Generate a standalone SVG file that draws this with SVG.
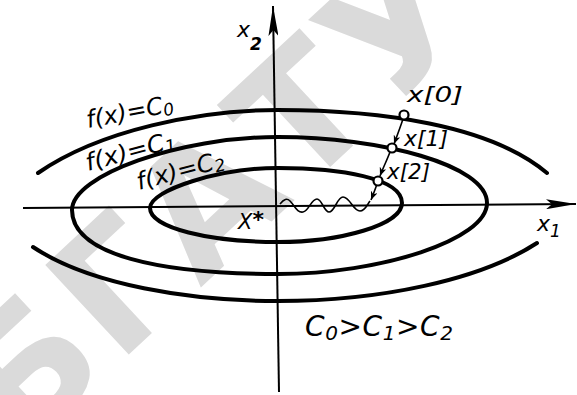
<svg xmlns="http://www.w3.org/2000/svg" width="577" height="395" viewBox="0 0 577 395">
<defs>
<style>
.curve{fill:none;stroke:#000;stroke-width:4;stroke-linecap:round}
.axis{fill:none;stroke:#000;stroke-width:2}
.thin{fill:none;stroke:#000;stroke-width:1.6}
.pt{fill:#fff;stroke:#000;stroke-width:2.2}
.lbl{font-family:"DejaVu Sans","Liberation Sans",sans-serif;font-style:italic;fill:#000}
.wm{font-family:"DejaVu Sans","Liberation Sans",sans-serif;font-weight:bold;fill:#dadada}
</style>
<marker id="bigArrow" viewBox="0 0 30 10" refX="30" refY="5" markerWidth="30" markerHeight="10" markerUnits="userSpaceOnUse" orient="auto">
<path d="M0,0 L30,5 L0,10 L6,5 Z" fill="#000"/>
</marker>
<marker id="smallArrow" viewBox="0 0 10 8" refX="10" refY="4" markerWidth="9" markerHeight="7" markerUnits="userSpaceOnUse" orient="auto">
<path d="M0,0 L10,4 L0,8 L3,4 Z" fill="#000"/>
</marker>
</defs>
<rect width="577" height="395" fill="#fff"/>
<g id="watermark">
<text class="wm" x="0" y="0" font-size="168" letter-spacing="6" transform="translate(222,205) rotate(-43)" text-anchor="middle" dominant-baseline="middle">БГАТУ</text>
</g>
<g id="axes">
<line class="axis" x1="23" y1="208" x2="576" y2="204" marker-end="url(#bigArrow)"/>
<line class="axis" x1="279" y1="392" x2="273" y2="6" marker-end="url(#bigArrow)"/>
</g>
<g id="level-c0">
<path class="curve" d="M38,173 C100,130 200,110 278,110 C380,110 490,125 547,173"/>
<path class="curve" d="M33,247 C90,285 190,301 278,301 C380,301 480,280 537,243"/>
</g>
<g id="level-c1">
<path class="curve" d="M72,210 C72,175 180,137 278,137 C380,137 487,165 487,203 C487,240 380,274 278,274 C160,274 72,255 72,210 Z"/>
</g>
<g id="level-c2">
<path class="curve" d="M150,208 C150,190 220,168 278,168 C340,168 402,178 402,203 C402,225 340,242 278,242 C210,242 150,228 150,208 Z"/>
</g>
<g id="connectors">
<path class="thin" d="M403,119 C400,128 397,136 394,144" marker-end="url(#smallArrow)"/>
<path class="thin" d="M390,152 C387,160 383,168 380,176" marker-end="url(#smallArrow)"/>
<path class="thin" d="M377,184 C375,190 373,195 371,200" marker-end="url(#smallArrow)"/>
<path class="thin" d="M280,204 C284,199 287,198 290,201 C295,206 297,213 303,212 C309,211 311,199 317,199 C322,199 324,212 329,212 C335,212 337,197 343,197 C350,197 353,211 360,211 C365,211 367,205 370,201"/>
</g>
<g id="x0"><circle class="pt" cx="404" cy="115" r="4.5"/><text class="lbl" x="407" y="102" font-size="22" textLength="56" lengthAdjust="spacingAndGlyphs">x[0]</text></g>
<g id="x1"><circle class="pt" cx="392" cy="148" r="4.5"/><text class="lbl" x="404" y="146" font-size="21" textLength="44" lengthAdjust="spacingAndGlyphs">x[1]</text></g>
<g id="x2"><circle class="pt" cx="378" cy="181" r="4.5"/><text class="lbl" x="387" y="179" font-size="21" textLength="43" lengthAdjust="spacingAndGlyphs">x[2]</text></g>
<g id="xstar"><text class="lbl" x="238" y="229" font-size="21" font-style="normal">X<tspan font-weight="bold" font-size="22" dy="-2">*</tspan></text></g>
<g id="labels">
<text class="lbl" x="88" y="128" font-size="24" transform="rotate(-11 88 128)" textLength="88" lengthAdjust="spacingAndGlyphs">f(x)=C<tspan font-size="17" dy="3">0</tspan></text>
<text class="lbl" x="88" y="171" font-size="24" transform="rotate(-15 88 171)" textLength="92" lengthAdjust="spacingAndGlyphs">f(x)=C<tspan font-size="17" dy="3">1</tspan></text>
<text class="lbl" x="139" y="190" font-size="24" transform="rotate(-15 139 190)" textLength="90" lengthAdjust="spacingAndGlyphs">f(x)=C<tspan font-size="17" dy="3">2</tspan></text>
<text class="lbl" x="237" y="37" font-size="22">x<tspan font-size="17" font-weight="bold" dy="13">2</tspan></text>
<text class="lbl" x="537" y="231" font-size="22">x<tspan font-size="17" dy="6">1</tspan></text>
<text class="lbl" x="305" y="336" font-size="28" textLength="148">C<tspan font-size="20" dy="4">0</tspan><tspan dy="-4">&gt;C</tspan><tspan font-size="20" dy="4">1</tspan><tspan dy="-4">&gt;C</tspan><tspan font-size="20" dy="4">2</tspan></text>
</g>
</svg>
